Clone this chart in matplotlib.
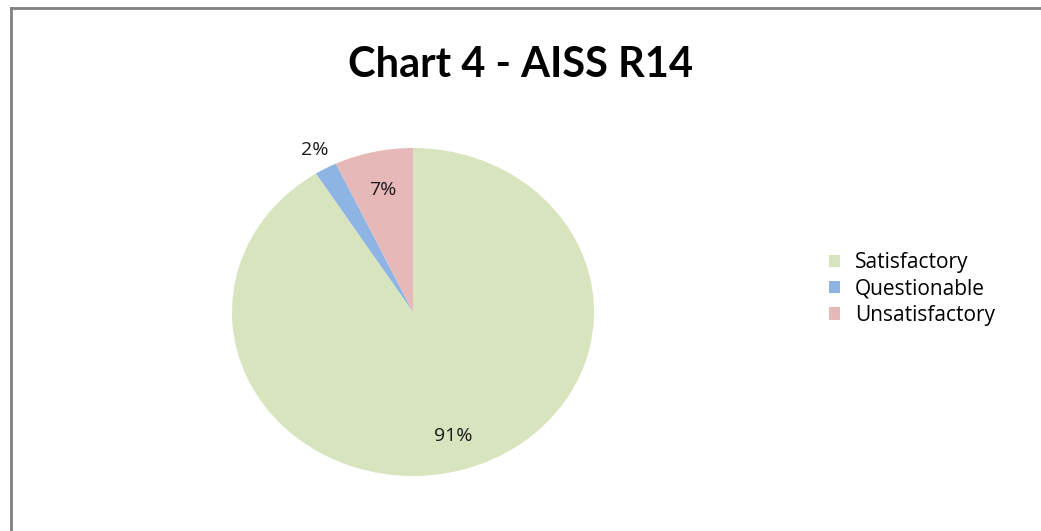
import numpy as np
import matplotlib

matplotlib.use("Agg")
import matplotlib.pyplot as plt
from matplotlib.lines import Line2D

categories = ["Satisfactory", "Questionable", "Unsatisfactory"]
shares = [91, 2, 7]
colors = ["#d7e4bd", "#8eb4e3", "#e6b9b8"]
label_radius = [0.79, 1.13, 0.76]

plt.rcParams["font.family"] = ["Open Sans", "DejaVu Sans"]

W, H = 1041, 531
fig = plt.figure(figsize=(W / 100, H / 100), dpi=100)

# outer frame: only top and left edges show
fig.add_artist(Line2D([11 / W, 1.0], [1 - 8 / H, 1 - 8 / H], color="#808080", lw=2))
fig.add_artist(Line2D([11 / W, 11 / W], [0.0, 1 - 8 / H], color="#808080", lw=2))

fig.text(520 / W, 1 - 65 / H, "Chart 4 - AISS R14", ha="center", va="center",
         fontsize=30, fontweight="bold", color="#000000", family=["Lato", "DejaVu Sans"])

ax = fig.add_axes([232 / W, 1 - 476 / H, 362 / W, 328 / H])
wedges, _ = ax.pie(shares, colors=colors, startangle=90, counterclock=False,
                   wedgeprops=dict(linewidth=0))
ax.set_aspect("auto")
ax.set_xlim(-1, 1)
ax.set_ylim(-1, 1)
ax.axis("off")

for w, value, r in zip(wedges, shares, label_radius):
    mid = np.deg2rad((w.theta1 + w.theta2) / 2)
    ax.text(r * np.cos(mid), r * np.sin(mid), f"{value}%", ha="center", va="center",
            fontsize=14, color="#1a1a1a")

fig.legend(wedges, categories, loc="center left", bbox_to_anchor=(810 / W, 1 - 289 / H),
           frameon=False, fontsize=15, handlelength=0.55, handleheight=0.55,
           handletextpad=0.7, labelspacing=0.25)

fig.savefig("out.png", dpi=100)
